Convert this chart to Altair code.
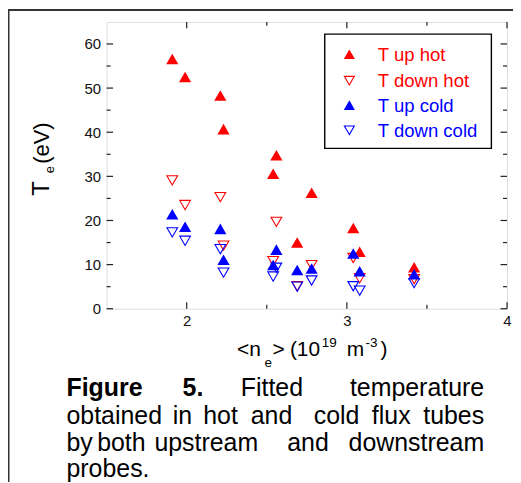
import altair as alt
import pandas as pd

# ---------------- data ----------------
ne = [1.91, 1.99, 2.21, 2.23, 2.54, 2.56, 2.69, 2.78, 3.04, 3.08, 3.42]
t_up_hot = [56.6, 52.5, 48.3, 40.7, 30.6, 34.8, 15.0, 26.3, 18.3, 12.9, 9.4]
t_down_hot = [29.1, 23.5, 25.3, 14.3, 10.8, 19.7, 5.1, 9.9, 11.5, 6.9, 6.7]
t_up_cold = [21.4, 18.6, 18.1, 11.1, 9.9, 13.4, 8.8, 9.1, 12.5, 8.5, 7.8]
t_down_cold = [17.3, 15.4, 13.5, 8.2, 7.3, 9.3, 5.0, 6.4, 5.1, 4.1, 5.8]

series_names = ["T up hot", "T down hot", "T up cold", "T down cold"]
series_values = [t_up_hot, t_down_hot, t_up_cold, t_down_cold]
series_colors = ["#ff0000", "#ff0000", "#0000ff", "#0000ff"]
series_shapes = ["triangle-up", "triangle-down", "triangle-up", "triangle-down"]
series_filled = [True, False, True, False]

y_major = [0, 10, 20, 30, 40, 50, 60]
y_minor = [5, 15, 25, 35, 45, 55]
x_major = [2, 3, 4]
x_minor = [2.5, 3.5]

caption_lines = [
    [("Figure", "bold"), ("5.", "bold"), ("Fitted", "normal"), ("temperature", "normal")],
    [("obtained", "normal"), ("in", "normal"), ("hot", "normal"), ("and", "normal"),
     ("cold", "normal"), ("flux", "normal"), ("tubes", "normal")],
    [("by", "normal"), ("both", "normal"), ("upstream", "normal"), ("and", "normal"),
     ("downstream", "normal")],
    [("probes.", "normal")],
]

# ---------------- layout ----------------
FONT = "Liberation Sans"
PL, PT = 99, 13          # plot origin at page (107, 21)
OX, OY = PL + 8, PT + 8
W, H = 402, 288
TOTAL_W, TOTAL_H = 507, 475

xs = alt.Scale(domain=[1.5, 4], nice=False, zero=False)
ys = alt.Scale(domain=[0, 65], nice=False, zero=False)
x_axis = alt.Axis(values=x_major, ticks=False, domain=False, grid=False, title=None,
                  labelFontSize=15, labelFont=FONT, labelColor="#111",
                  labelPadding=5, labelFlush=False, labelOverlap=False)
y_axis = alt.Axis(values=y_major, ticks=False, domain=False, grid=False, title=None,
                  labelFontSize=15, labelFont=FONT, labelColor="#111",
                  labelPadding=6, labelFlush=False, labelOverlap=False)

layers = []

# data points
for name, vals, col, shp, fil in zip(series_names, series_values, series_colors,
                                      series_shapes, series_filled):
    df = pd.DataFrame({"ne": ne, "T": vals, "series": name})
    mk = dict(shape=shp, color=col, opacity=1, strokeWidth=1.1)
    if fil:
        mk.update(filled=True, size=150)
    else:
        mk.update(filled=False, size=115)
    layers.append(
        alt.Chart(df).mark_point(**mk).encode(
            x=alt.X("ne:Q", scale=xs, axis=x_axis),
            y=alt.Y("T:Q", scale=ys, axis=y_axis),
        )
    )

# inward ticks on all four sides
TICK_C = "#222"
def vticks(vals, length):
    d = pd.DataFrame({"v": vals})
    bottom = alt.Chart(d).mark_rule(color=TICK_C, strokeWidth=1.2).encode(
        x=alt.X("v:Q", scale=xs, axis=x_axis), y=alt.value(H), y2=alt.value(H - length))
    top = alt.Chart(d).mark_rule(color=TICK_C, strokeWidth=1.2).encode(
        x=alt.X("v:Q", scale=xs, axis=x_axis), y=alt.value(0), y2=alt.value(length))
    return [bottom, top]

def hticks(vals, length):
    d = pd.DataFrame({"v": vals})
    left = alt.Chart(d).mark_rule(color=TICK_C, strokeWidth=1.2).encode(
        y=alt.Y("v:Q", scale=ys, axis=y_axis), x=alt.value(0), x2=alt.value(length))
    right = alt.Chart(d).mark_rule(color=TICK_C, strokeWidth=1.2).encode(
        y=alt.Y("v:Q", scale=ys, axis=y_axis), x=alt.value(W), x2=alt.value(W - length))
    return [left, right]

layers += vticks(x_major, 6.5) + vticks(x_minor, 4)
layers += hticks(y_major, 6.5) + hticks(y_minor, 4)


def txt(s, px, py, size, weight="normal", align="left", angle=0, color="black",
        baseline="alphabetic"):
    return alt.Chart(pd.DataFrame({"t": [s]})).mark_text(
        align=align, baseline=baseline, fontSize=size, fontWeight=weight,
        angle=angle, color=color, font=FONT,
    ).encode(x=alt.value(px - OX), y=alt.value(py - OY), text="t:N")


# legend box
layers.append(
    alt.Chart(pd.DataFrame({"a": [0]})).mark_rect(
        fill="white", stroke="black", strokeWidth=1.4
    ).encode(x=alt.value(326 - OX), x2=alt.value(493.3 - OX),
             y=alt.value(33.3 - OY), y2=alt.value(148 - OY))
)
legend_rows = [53.5, 80, 104.5, 129.8]
legend_base = [60.7, 86.4, 111, 136.4]
for name, col, shp, fil, ry, rb in zip(series_names, series_colors, series_shapes,
                                        series_filled, legend_rows, legend_base):
    mk = dict(shape=shp, color=col, opacity=1, strokeWidth=1.1)
    if fil:
        mk.update(filled=True, size=125)
    else:
        mk.update(filled=False, size=100)
    layers.append(
        alt.Chart(pd.DataFrame({"s": [name]})).mark_point(**mk).encode(
            x=alt.value(350.7 - OX), y=alt.value(ry - OY))
    )
    layers.append(txt(name, 379.3, rb, 18.6, color=col))

# y-axis title: T_e (eV)
layers.append(txt("T", 49.5, 195.5, 24, angle=270))
layers.append(txt("e", 54, 173, 13, angle=270))
layers.append(txt("(eV)", 49.5, 163.5, 22, angle=270))

# x-axis title: <n_e> (10^19 m^-3)
layers.append(txt("<n", 238, 356.7, 21))
layers.append(txt("e", 265.5, 367.5, 13.5))
layers.append(txt(">", 273.5, 356.7, 21))
layers.append(txt("(10", 291, 356.7, 21))
layers.append(txt("19", 323, 347.5, 13.5))
layers.append(txt("m", 348, 356.7, 21))
layers.append(txt("-3", 367, 347.5, 13.5))
layers.append(txt(")", 382, 356.7, 21))

# caption, justified word by word
CAP = 25
line_base = [397, 425, 451.5, 478]
line_x = [
    [66.7, 183.3, 241.7, 486],
    [66.7, 173.3, 204, 251.7, 315, 373.3, 486],
    [66.7, 97.5, 155, 288.3, 486],
    [66.7],
]
for words, xs_line, by in zip(caption_lines, line_x, line_base):
    n = len(words)
    for i, ((w, wt), px) in enumerate(zip(words, xs_line)):
        al = "right" if (i == n - 1 and n > 1) else "left"
        layers.append(txt(w, px, by, CAP, weight=wt, align=al))

# outer frame lines of the scanned page
layers.append(
    alt.Chart(pd.DataFrame({"a": [0]})).mark_rule(color="#333", strokeWidth=2).encode(
        x=alt.value(-PL), x2=alt.value(TOTAL_W - PL), y=alt.value(9 - OY))
)
layers.append(
    alt.Chart(pd.DataFrame({"a": [0]})).mark_rule(color="#333", strokeWidth=2).encode(
        x=alt.value(8.5 - OX), y=alt.value(-PT), y2=alt.value(TOTAL_H - PT))
)

chart = alt.layer(*layers).properties(
    width=W, height=H,
    autosize=alt.AutoSizeParams(type="none"),
    padding={"left": PL, "top": PT, "right": TOTAL_W - PL - W, "bottom": TOTAL_H - PT - H},
).configure_view(
    stroke="#333", strokeWidth=1.5
).configure(
    font=FONT, background="white"
)

chart.save("out.html", embed_options={"renderer": "svg", "actions": False})
